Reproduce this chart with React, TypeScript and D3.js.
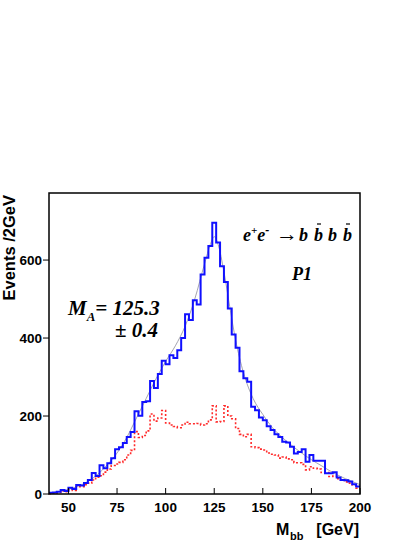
import React from 'react';
import * as d3 from 'd3';

// histogram bins: 2 GeV wide, lower edges 40 .. 198
const binLow = d3.range(40, 200, 2);

// signal + background (blue, solid)
const totalCounts = [
  3, 4, 6, 10, 8, 16, 13, 23, 22, 28,
  36, 54, 46, 74, 66, 79, 92, 115, 120, 131,
  146, 159, 212, 201, 236, 238, 290, 272, 308, 342,
  333, 356, 349, 369, 400, 461, 446, 497, 486, 563,
  606, 636, 696, 645, 584, 544, 476, 409, 375, 315,
  297, 288, 224, 215, 196, 189, 174, 164, 153, 146,
  134, 132, 121, 104, 108, 115, 83, 100, 85, 85,
  85, 53, 53, 56, 42, 36, 35, 32, 25, 19,
];

// background only (red, dotted)
const bkgCounts = [
  1, 2, 4, 8, 6, 11, 9, 19, 19, 24,
  28, 36, 43, 47, 56, 64, 73, 77, 81, 88,
  100, 112, 160, 145, 150, 162, 205, 187, 195, 214,
  182, 177, 173, 170, 177, 184, 180, 180, 181, 177,
  180, 190, 226, 185, 186, 226, 200, 193, 168, 153,
  147, 153, 121, 119, 115, 113, 105, 102, 100, 92,
  95, 90, 88, 80, 80, 76, 62, 70, 66, 64,
  55, 55, 45, 46, 39, 36, 31, 28, 23, 15,
];

// fitted curve
const fitMass = [40, 45, 50, 55, 60, 65, 70, 75, 80, 85, 90, 95, 100, 105, 110, 115, 120, 123, 125, 127, 130, 133, 136, 140, 145, 150, 155, 160, 165, 170, 175, 180, 185, 190, 195, 200];
const fitValue = [2, 6, 12, 20, 32, 50, 75, 105, 145, 195, 245, 295, 340, 380, 430, 500, 590, 640, 660, 640, 570, 480, 395, 312, 245, 204, 170, 145, 124, 105, 88, 73, 58, 45, 34, 24];

const xTicks = [50, 75, 100, 125, 150, 175, 200];
const yTicks = [0, 200, 400, 600];

const W = 420;
const H = 543;
const left = 49;
const right = 360;
const top = 193;
const bottom = 494;

const sans = "'Liberation Sans', Arial, Helvetica, sans-serif";
const serif = "'Liberation Serif', 'Times New Roman', 'DejaVu Serif', serif";

const serifStyle: React.CSSProperties = { fontFamily: serif, fontWeight: 'bold', fontStyle: 'italic' };

export default function App() {
  const x = d3.scaleLinear().domain([40, 200]).range([left, right]);
  const y = d3.scaleLinear().domain([0, 772]).range([bottom, top]);

  const stepLine = d3
    .line<[number, number]>()
    .curve(d3.curveStepAfter)
    .x((d) => x(d[0]))
    .y((d) => y(d[1]));

  const toSteps = (counts: number[]): [number, number][] => {
    const pts: [number, number][] = binLow.map((b, i) => [b, counts[i]]);
    pts.push([200, counts[counts.length - 1]]);
    return pts;
  };

  const fitLine = d3
    .line<number>()
    .curve(d3.curveMonotoneX)
    .x((_, i) => x(fitMass[i]))
    .y((d) => y(d));

  return (
    <svg width={W} height={H} style={{ position: 'absolute', left: 0, top: 0, background: '#fff' }}>
      <rect x={0} y={0} width={W} height={H} fill="#fff" />

      {/* histograms */}
      <path d={stepLine(toSteps(bkgCounts)) || ''} fill="none" stroke="#ff2a2a" strokeWidth={1.6} strokeDasharray="2,2" />
      <path d={fitLine(fitValue) || ''} fill="none" stroke="#9a9aa6" strokeWidth={0.9} />
      <path d={stepLine(toSteps(totalCounts)) || ''} fill="none" stroke="#1010ff" strokeWidth={2} />

      {/* frame */}
      <rect x={left} y={top} width={right - left} height={bottom - top} fill="none" stroke="#000" strokeWidth={1.5} />

      {/* x axis */}
      {xTicks.map((t) => (
        <g key={t}>
          <line x1={x(t)} x2={x(t)} y1={bottom} y2={bottom - 6} stroke="#000" strokeWidth={1} />
          <text x={x(t)} y={512} textAnchor="middle" fontFamily={sans} fontWeight="bold" fontSize={13.5}>
            {t}
          </text>
        </g>
      ))}

      {/* y axis */}
      {yTicks.map((t) => (
        <g key={t}>
          <line x1={left - 6} x2={left} y1={y(t)} y2={y(t)} stroke="#000" strokeWidth={1} />
          <text x={42} y={y(t) + 5} textAnchor="end" fontFamily={sans} fontWeight="bold" fontSize={13.5}>
            {t}
          </text>
        </g>
      ))}

      <text transform="translate(15,195) rotate(-90)" textAnchor="end" fontFamily={sans} fontWeight="bold" fontSize={16.5}>
        Events /2GeV
      </text>

      <text x={276} y={535} fontFamily={sans} fontWeight="bold" fontSize={16}>M</text>
      <text x={290} y={540} fontFamily={sans} fontWeight="bold" fontSize={11}>bb</text>
      <text x={359} y={535} textAnchor="end" fontFamily={sans} fontWeight="bold" fontSize={16}>[GeV]</text>

      {/* annotations */}
      <text x={68} y={315} fontSize={21} style={serifStyle}>
        M<tspan dy={6} fontSize={13}>A</tspan>
        <tspan dy={-6}>= 125.3</tspan>
      </text>
      <text x={158} y={337} textAnchor="end" fontSize={21} style={serifStyle}>± 0.4</text>

      <text x={243} y={241} fontSize={18} style={serifStyle}>
        e<tspan dy={-7} fontSize={11}>+</tspan>
        <tspan dy={7}>e</tspan>
        <tspan dy={-7} fontSize={12}>-</tspan>
      </text>
      <text x={276} y={241} fontSize={22} style={{ ...serifStyle, fontStyle: 'normal', fontWeight: 'normal' }}>→</text>
      <text x={299} y={241} fontSize={18} style={serifStyle}>b</text>
      <text x={314} y={241} fontSize={18} style={serifStyle}>b</text>
      <text x={328} y={241} fontSize={18} style={serifStyle}>b</text>
      <text x={343} y={241} fontSize={18} style={serifStyle}>b</text>
      <line x1={317} x2={321} y1={224} y2={224} stroke="#000" strokeWidth={1.2} />
      <line x1={346} x2={350} y1={224} y2={224} stroke="#000" strokeWidth={1.2} />

      <text x={292} y={280} fontSize={18} style={serifStyle}>P1</text>
    </svg>
  );
}
